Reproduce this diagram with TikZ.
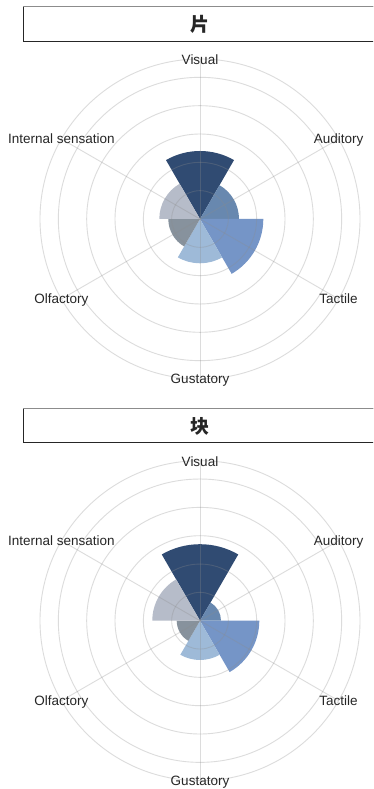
\documentclass[tikz,border=0pt]{standalone}
\usepackage{fontspec}
\setmainfont{Liberation Sans}
\newfontfamily\cjk{Noto Sans CJK SC}
\definecolor{cVis}{HTML}{304B72}
\definecolor{cAud}{HTML}{6888AF}
\definecolor{cTac}{HTML}{7595C7}
\definecolor{cGus}{HTML}{9EBAD8}
\definecolor{cOlf}{HTML}{87929D}
\definecolor{cInt}{HTML}{B6BCC9}
\tikzset{
  lbl/.style={inner sep=0pt, text height=9.7pt, text depth=0pt, font=\fontsize{13.5}{16}\selectfont, text=black!85},
  ttl/.style={inner sep=0pt, font=\cjk\bfseries\fontsize{19}{22}\selectfont, text=black!85},
  gridline/.style={draw=black!45, draw opacity=0.3, line width=0.9pt},
}
\newcommand\mywedge[5]{%
  \fill[#5] (#1) -- ([shift={(#1)}]#2:#4) arc[start angle=#2, end angle=#3, radius=#4] -- cycle;}
\newcommand\mychart[8]{%
  \mywedge{#1}{60}{120}{#2pt}{cVis}
  \mywedge{#1}{0}{60}{#3pt}{cAud}
  \mywedge{#1}{-60}{0}{#4pt}{cTac}
  \mywedge{#1}{-120}{-60}{#5pt}{cGus}
  \mywedge{#1}{180}{240}{#6pt}{cOlf}
  \mywedge{#1}{120}{180}{#7pt}{cInt}
  \foreach \r in {28.33,56.67,85,113.33,141.67,160}{\draw[gridline] (#1) circle[radius=\r pt];}
  \foreach \a in {90,30,-30,-90,-150,150}{\draw[gridline] (#1) -- ([shift={(#1)}]\a:160pt);}
  \node[lbl] (vis#8) at ([shift={(#1)}]90:159pt) {Visual};
  \node[lbl] (aud#8) at ([shift={(#1)}]30:160pt) {Auditory};
  \node[lbl] (tac#8) at ([shift={(#1)}]-30:160pt) {Tactile};
  \node[lbl] (gus#8) at ([shift={(#1)}]-90:160pt) {Gustatory};
  \node[lbl] (olf#8) at ([shift={(#1)}]-150:160pt) {Olfactory};
  \node[lbl] (int#8) at ([shift={(#1)}]150:160pt) {Internal sensation};
}
\begin{document}
\begin{tikzpicture}[x=1pt,y=1pt]
\useasboundingbox (0,0) rectangle (373,789);
\clip (0,0) rectangle (373,789);
\fill[white] (0,0) rectangle (373,789);
% top panel
\coordinate (cA) at (200,570);
\draw[black!85, line width=1pt] (23,747.5) rectangle (390,782.5);
\draw[black!45, line width=1.3pt] (23,782.5) -- (390,782.5);
\node[ttl] (tA) at (200,764.5) {片};
\mychart{cA}{68}{39}{63.3}{44.3}{31.7}{40.7}{A}
% bottom panel
\coordinate (cB) at (200,168.3);
\draw[black!85, line width=1pt] (23,346.2) rectangle (390,380.7);
\draw[black!45, line width=1.3pt] (23,380.7) -- (390,380.7);
\node[ttl] (tB) at (200,363) {块};
\mychart{cB}{76.5}{21}{59.3}{39.3}{23.3}{47.7}{B}
\end{tikzpicture}
\end{document}
